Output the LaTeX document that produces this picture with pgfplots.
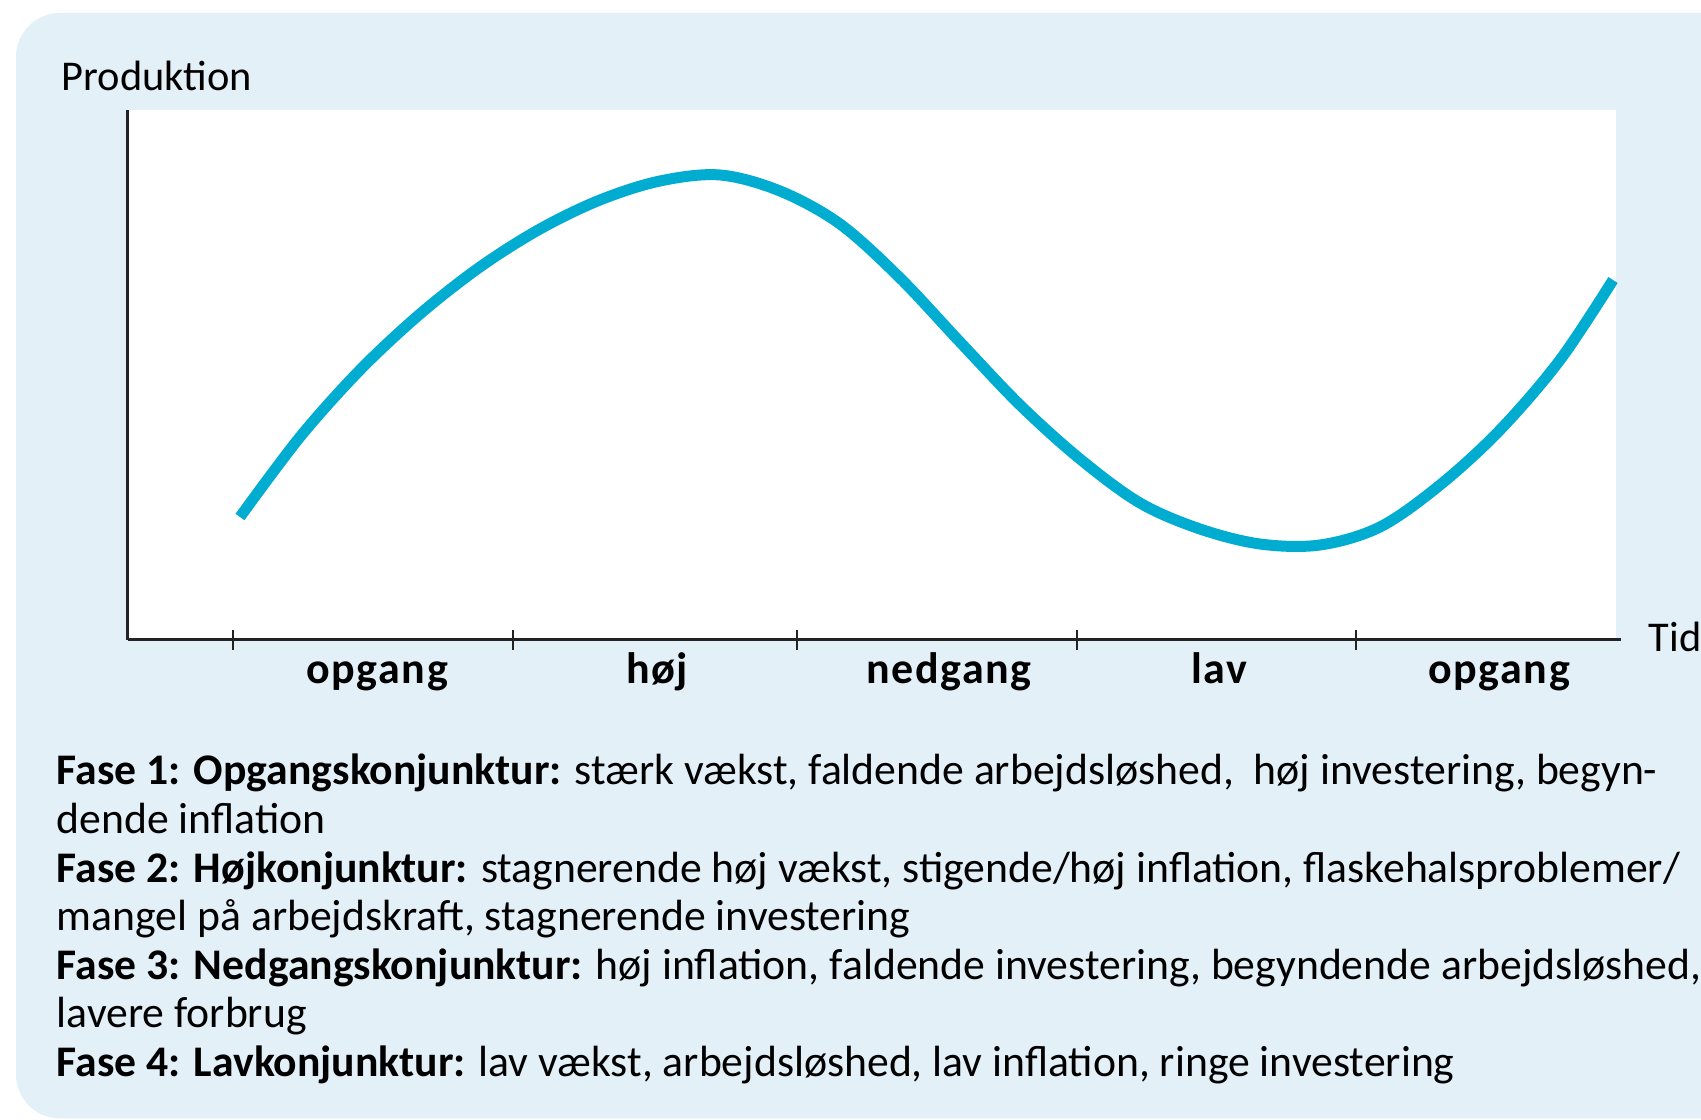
\documentclass[border=0pt]{standalone}
\usepackage{fontspec}
\setmainfont{Carlito}
\usepackage{pgfplots}
\pgfplotsset{compat=1.18}
\definecolor{bgblue}{RGB}{227,240,247}
\definecolor{curve}{RGB}{0,172,208}
\definecolor{axisgray}{RGB}{35,35,35}
\begin{document}
\begin{tikzpicture}
\useasboundingbox (0,0) rectangle (425.25pt,-280pt);
\fill[white] (0,0) rectangle (425.25pt,-280pt);
\fill[bgblue, rounded corners=11pt] (4pt,-3.25pt) rectangle (445pt,-279.6pt);
\begin{axis}[
  at={(32pt,-160pt)}, anchor=south west,
  width=372pt, height=132.5pt, scale only axis,
  xmin=128, xmax=1616, ymin=0, ymax=530,
  axis lines=left,
  axis line style={-, line width=0.75pt, color=axisgray},
  x axis line style={shorten >=-1.3pt},
  axis background/.style={fill=white},
  ytick=\empty,
  xtick={378,658,950,1220,1500},
  xticklabels={\textbf{opgang},\textbf{høj},\textbf{nedgang},\textbf{lav},\textbf{opgang}},
  major tick length=0pt,
  minor xtick={233,513,797,1077,1356},
  minor tick length=5pt,
  tick align=center,
  minor tick style={line width=0.5pt, color=axisgray},
  xticklabel style={anchor=base, yshift=-10.9pt, font=\fontsize{11pt}{12pt}\selectfont\addfontfeatures{LetterSpace=3.5}},
  xlabel={Tid},
  xlabel style={at={(rel axis cs:1.0215,-0.0226)}, anchor=base west, font=\fontsize{10.6pt}{12pt}\selectfont, inner sep=0pt},
  ylabel={Produktion},
  ylabel style={rotate=-90, at={(rel axis cs:-0.045,1.036)}, anchor=base west, font=\fontsize{10.6pt}{12pt}\selectfont, inner sep=0pt},
  clip=false,
]
\addplot[curve, line width=2.75pt, smooth, tension=0.55, line cap=butt] coordinates {
(240,123) (300,203) (360,270) (420,326) (480,373) (540,411) (600,440)
(660,459) (720,465) (780,449) (840,416) (900,362) (960,298) (1020,235)
(1080,181) (1140,137) (1200,111) (1260,96) (1320,95) (1380,113)
(1440,155) (1500,210) (1560,280) (1613,360)
};
\end{axis}
\begin{scope}[every node/.style={anchor=base west, inner sep=0pt, font=\fontsize{10.92pt}{12pt}\selectfont}]
\node at (14pt,-196.25pt) {\textbf{Fase 1: Opgangskonjunktur:} stærk vækst, faldende arbejdsløshed,\ \ høj investering, begyn-};
\node at (14pt,-208.4pt) {dende inflation};
\node at (14pt,-220.55pt) {\textbf{Fase 2: Højkonjunktur:} stagnerende høj vækst, stigende/høj inflation, flaskehalsproblemer/};
\node at (14pt,-232.7pt) {mangel på arbejdskraft, stagnerende investering};
\node at (14pt,-244.85pt) {\textbf{Fase 3: Nedgangskonjunktur:} høj inflation, faldende investering, begyndende arbejdsløshed,};
\node at (14pt,-257pt) {lavere forbrug};
\node at (14pt,-269.15pt) {\textbf{Fase 4: Lavkonjunktur:} lav vækst, arbejdsløshed, lav inflation, ringe investering};
\end{scope}
\end{tikzpicture}
\end{document}
